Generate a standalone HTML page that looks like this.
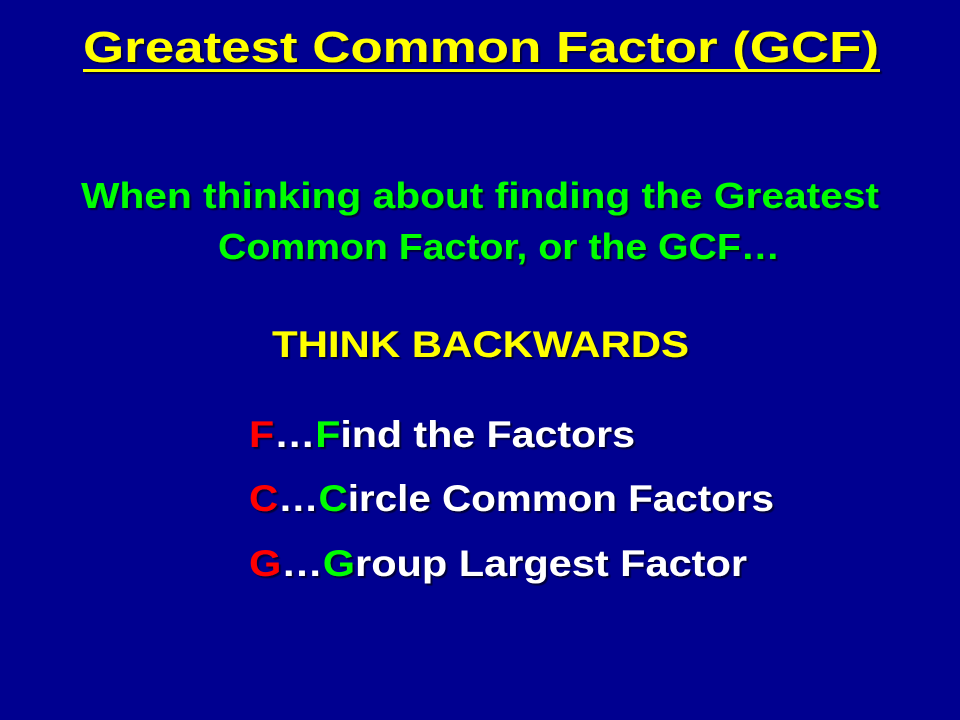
<!DOCTYPE html>
<html>
<head>
<meta charset="utf-8">
<style>
  html,body{margin:0;padding:0;background:#000090;}
  svg{display:block;}
  text{font-family:"Liberation Sans",sans-serif;font-weight:bold;}
</style>
</head>
<body>
<svg width="960" height="720" viewBox="0 0 960 720">
  <rect x="0" y="0" width="960" height="720" fill="#000090"/>
  <defs>
    <filter id="sh" x="-5%" y="-20%" width="110%" height="140%">
      <feDropShadow dx="2" dy="2" stdDeviation="0.5" flood-color="#000033" flood-opacity="0.9"/>
    </filter>
  </defs>
  <g filter="url(#sh)">
    <text x="83" y="62" font-size="44" fill="#ffff00" textLength="796" lengthAdjust="spacingAndGlyphs">Greatest Common Factor (GCF)</text>
    <rect x="83" y="69" width="797" height="3" fill="#ffff00"/>
    <text x="81" y="208" font-size="36" fill="#00ff00" textLength="798" lengthAdjust="spacingAndGlyphs">When thinking about finding the Greatest</text>
    <text x="218" y="259" font-size="36" fill="#00ff00" textLength="562" lengthAdjust="spacingAndGlyphs">Common Factor, or the GCF…</text>
    <text x="272" y="357" font-size="37" fill="#ffff00" textLength="417" lengthAdjust="spacingAndGlyphs">THINK BACKWARDS</text>
    <text x="249" y="447" font-size="37" fill="#ffffff" textLength="386" lengthAdjust="spacingAndGlyphs"><tspan fill="#ff0000">F</tspan>…<tspan fill="#00ff00">F</tspan>ind the Factors</text>
    <text x="249" y="511" font-size="37" fill="#ffffff" textLength="525" lengthAdjust="spacingAndGlyphs"><tspan fill="#ff0000">C</tspan>…<tspan fill="#00ff00">C</tspan>ircle Common Factors</text>
    <text x="249" y="576" font-size="37" fill="#ffffff" textLength="498" lengthAdjust="spacingAndGlyphs"><tspan fill="#ff0000">G</tspan>…<tspan fill="#00ff00">G</tspan>roup Largest Factor</text>
  </g>
</svg>
</body>
</html>
